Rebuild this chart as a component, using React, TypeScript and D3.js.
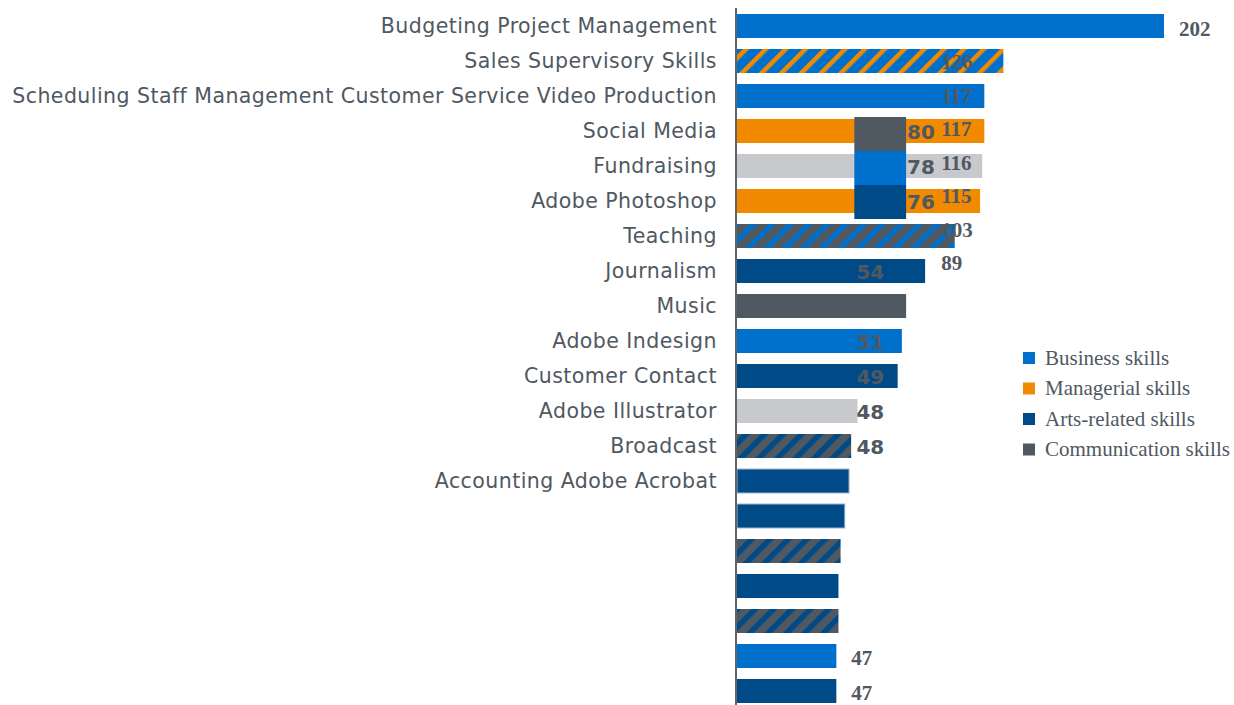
import React from "react";
import * as d3 from "d3";

const categories: string[] = [
  "Budgeting Project Management",
  "Sales Supervisory Skills",
  "Scheduling Staff Management Customer Service Video Production",
  "Social Media",
  "Fundraising",
  "Adobe Photoshop",
  "Teaching",
  "Journalism",
  "Music",
  "Adobe Indesign",
  "Customer Contact",
  "Adobe Illustrator",
  "Broadcast",
  "Accounting Adobe Acrobat",
  "",
  "",
  "",
  "",
  "",
  "",
];

const values: number[] = [202, 126, 117, 117, 116, 115, 103, 89, 80, 78, 76, 57, 54, 53, 51, 49, 48, 48, 47, 47];

// fill key per bar
const fills: string[] = [
  "business", "hatchBizMgr", "business", "managerial", "other", "managerial", "hatchCommBiz",
  "arts", "communication", "business", "arts", "other", "hatchCommArts",
  "arts", "arts", "hatchCommArts", "arts", "hatchCommArts", "business", "arts",
];

// serif value labels: row index + shown value
const serifLabelRows: number[] = [0, 1, 2, 3, 4, 5, 6, 7, 18, 19];
const serifLabelValues: number[] = [202, 126, 117, 117, 116, 115, 103, 89, 47, 47];

// sans overlay labels (upper group)
const overlayRowsA: number[] = [3, 4, 5];
const overlayValuesA: number[] = [80, 78, 76];
const overlayFillsA: string[] = ["communication", "business", "arts"];
// sans overlay labels (lower group)
const overlayRowsB: number[] = [7, 9, 10, 11, 12];
const overlayValuesB: number[] = [54, 51, 49, 48, 48];

const legendLabels: string[] = ["Business skills", "Managerial skills", "Arts-related skills", "Communication skills"];
const legendKeys: string[] = ["business", "managerial", "arts", "communication"];

const COLORS: Record<string, string> = {
  business: "#0070CD",
  managerial: "#F28A00",
  arts: "#004A87",
  communication: "#505862",
  other: "#C8C9CC",
};

const TEXT = "#505862";

export default function App() {
  const W = 1234;
  const H = 705;
  const axisX = 736;

  const x = d3.scaleLinear().domain([0, 202]).range([axisX + 1, 1164]);
  const idx = categories.map((_, i) => i);
  const y = d3.scalePoint<number>().domain(idx).range([26, 691]);
  const barH = 24;

  const fillFor = (k: string) => (k.startsWith("hatch") ? `url(#${k})` : COLORS[k]);

  const yA = d3
    .scaleBand<number>()
    .domain(overlayRowsA)
    .range([(y(3) as number) - 14, (y(5) as number) + 18]);

  const serifX = (row: number, v: number) => {
    if (row === 0 || v < 60) return x(v) + 15;
    return x(89) + 16;
  };
  const serifY = (row: number) => {
    const c = y(row) as number;
    if (row === 0) return c + 10;
    if (row > 10) return c + 9;
    return c + 8 - 1.5 * (row - 1);
  };

  return (
    <svg
      width={W}
      height={H}
      style={{ position: "absolute", left: 0, top: 0, background: "#fff" }}
    >
      <defs>
        <pattern id="hatchBizMgr" patternUnits="userSpaceOnUse" width={14} height={14} patternTransform="rotate(45)">
          <rect width={14} height={14} fill={COLORS.business} />
          <rect width={4.5} height={14} fill={COLORS.managerial} />
        </pattern>
        <pattern id="hatchCommBiz" patternUnits="userSpaceOnUse" width={13} height={13} patternTransform="rotate(45)">
          <rect width={13} height={13} fill={COLORS.communication} />
          <rect width={5} height={13} fill={COLORS.business} />
        </pattern>
        <pattern id="hatchCommArts" patternUnits="userSpaceOnUse" width={13} height={13} patternTransform="rotate(45)">
          <rect width={13} height={13} fill={COLORS.communication} />
          <rect width={5.5} height={13} fill={COLORS.arts} />
        </pattern>
      </defs>

      {/* category labels */}
      <g fontFamily="'DejaVu Sans', Verdana, sans-serif" fontSize={20.5} fill={TEXT} letterSpacing={0.45}>
        {categories.map((c, i) =>
          c ? (
            <text key={i} x={717} y={y(i)} dy="0.36em" textAnchor="end">
              {c}
            </text>
          ) : null
        )}
      </g>

      {/* bars */}
      <g>
        {values.map((v, i) => (
          <rect
            key={i}
            x={x(0)}
            y={(y(i) as number) - barH / 2}
            width={x(v) - x(0)}
            height={barH}
            fill={fillFor(fills[i])}
            stroke={i === 13 || i === 14 ? "#9fb6cf" : "none"}
            strokeWidth={i === 13 || i === 14 ? 1 : 0}
          />
        ))}
      </g>

      {/* overlay blocks */}
      <g>
        {overlayRowsA.map((r, j) => (
          <rect
            key={r}
            x={x(55.5)}
            y={yA(r)}
            width={x(80) - x(55.5)}
            height={yA.bandwidth()}
            fill={COLORS[overlayFillsA[j]]}
          />
        ))}
      </g>

      {/* axis line */}
      <line x1={axisX} x2={axisX} y1={8} y2={H} stroke="#5f656d" strokeWidth={2} />

      {/* sans overlay labels */}
      <g fontFamily="'DejaVu Sans', sans-serif" fontWeight="bold" fontSize={20} fill={TEXT}>
        {overlayRowsA.map((r, j) => (
          <text key={`a${r}`} x={x(80) + 1} y={(y(r) as number) + 8}>
            {overlayValuesA[j]}
          </text>
        ))}
        {overlayRowsB.map((r, j) => (
          <text key={`b${r}`} x={x(56) + 1} y={(y(r) as number) + 8}>
            {overlayValuesB[j]}
          </text>
        ))}
      </g>

      {/* serif value labels */}
      <g fontFamily="'Liberation Serif', 'Times New Roman', serif" fontWeight="bold" fontSize={21} fill={TEXT}>
        {serifLabelRows.map((r, j) => (
          <text key={r} x={serifX(r, serifLabelValues[j])} y={serifY(r)}>
            {serifLabelValues[j]}
          </text>
        ))}
      </g>

      {/* legend */}
      <g fontFamily="'Liberation Serif', 'Times New Roman', serif" fontSize={21} fill={TEXT}>
        {legendLabels.map((l, i) => {
          const cy = 358 + i * 30.5;
          return (
            <g key={l}>
              <rect x={1023} y={cy - 6} width={12} height={12} fill={COLORS[legendKeys[i]]} />
              <text x={1045} y={cy} dy="0.33em">
                {l}
              </text>
            </g>
          );
        })}
      </g>
    </svg>
  );
}
